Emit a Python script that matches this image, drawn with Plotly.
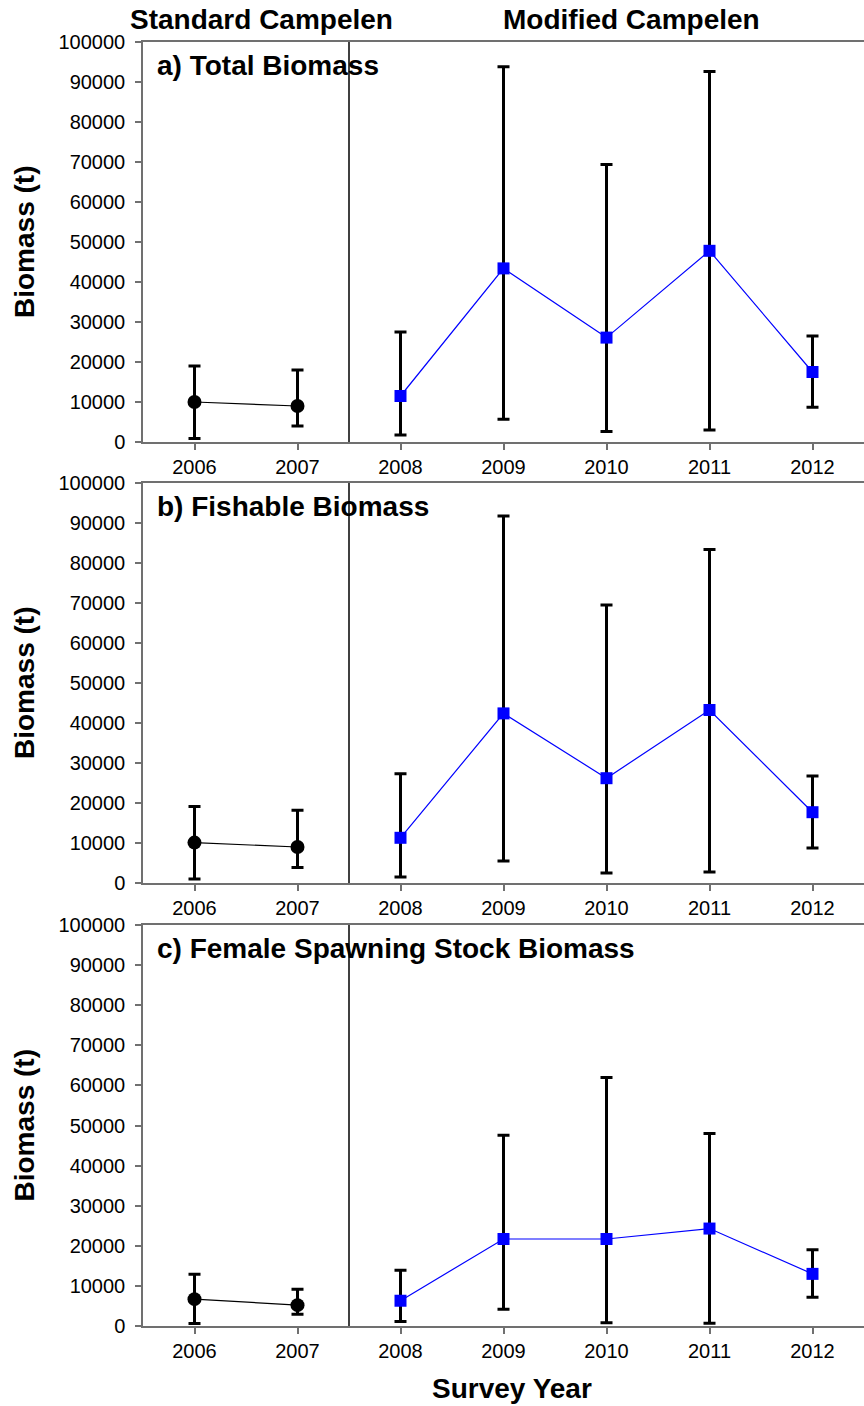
import plotly.graph_objects as go

# ---------------- data ----------------
years_std = [2006, 2007]
years_mod = [2008, 2009, 2010, 2011, 2012]

total_std = [10000, 9000]
total_std_lo = [900, 4000]
total_std_hi = [19000, 18000]
total_mod = [11500, 43400, 26100, 47800, 17500]
total_mod_lo = [1750, 5700, 2600, 3000, 8700]
total_mod_hi = [27500, 93800, 69400, 92600, 26500]

fish_std = [10100, 9000]
fish_std_lo = [1000, 3900]
fish_std_hi = [19100, 18200]
fish_mod = [11300, 42400, 26200, 43250, 17700]
fish_mod_lo = [1500, 5500, 2500, 2750, 8750]
fish_mod_hi = [27300, 91750, 69500, 83400, 26750]

fem_std = [6700, 5200]
fem_std_lo = [600, 2900]
fem_std_hi = [12900, 9150]
fem_mod = [6300, 21700, 21700, 24300, 13000]
fem_mod_lo = [1100, 4200, 800, 700, 7200]
fem_mod_hi = [13900, 47550, 62000, 48000, 19000]

panel_titles = ["a) Total Biomass", "b) Fishable Biomass", "c) Female Spawning Stock Biomass"]
year_ticks = [2006, 2007, 2008, 2009, 2010, 2011, 2012]
y_ticks = list(range(0, 100001, 10000))

W, H = 864, 1406
FONT = "Liberation Sans, Arial, Helvetica, sans-serif"

# panel pixel extents (top, bottom)
panels_px = [(42, 442), (483, 883), (925, 1326)]
x_left_px = 143

panels = [
    (total_std, total_std_lo, total_std_hi, total_mod, total_mod_lo, total_mod_hi),
    (fish_std, fish_std_lo, fish_std_hi, fish_mod, fish_mod_lo, fish_mod_hi),
    (fem_std, fem_std_lo, fem_std_hi, fem_mod, fem_mod_lo, fem_mod_hi),
]

fig = go.Figure()
layout = dict(
    width=W, height=H,
    margin=dict(l=0, r=0, t=0, b=0, autoexpand=False),
    paper_bgcolor="white", plot_bgcolor="white",
    showlegend=False,
    font=dict(family=FONT, color="black", size=20),
)
annotations = []
shapes = []

for i, (sv, slo, shi, mv, mlo, mhi) in enumerate(panels):
    n = "" if i == 0 else str(i + 1)
    xa, ya = "x" + n, "y" + n
    top, bot = panels_px[i]
    dom_y = [1 - bot / H, 1 - top / H]

    fig.add_trace(go.Scatter(
        x=years_std, y=sv, xaxis=xa, yaxis=ya, mode="lines+markers",
        line=dict(color="black", width=1.2),
        marker=dict(symbol="circle", size=14, color="black"),
        error_y=dict(type="data", symmetric=False,
                     array=[h - v for h, v in zip(shi, sv)],
                     arrayminus=[v - l for v, l in zip(sv, slo)],
                     color="black", thickness=3, width=6),
    ))
    fig.add_trace(go.Scatter(
        x=years_mod, y=mv, xaxis=xa, yaxis=ya, mode="lines+markers",
        line=dict(color="#0000FF", width=1.2),
        marker=dict(symbol="square", size=12, color="#0000FF"),
        error_y=dict(type="data", symmetric=False,
                     array=[h - v for h, v in zip(mhi, mv)],
                     arrayminus=[v - l for v, l in zip(mv, mlo)],
                     color="black", thickness=3, width=6),
    ))

    layout["xaxis" + n] = dict(
        domain=[x_left_px / W, 1.0], anchor=ya, range=[2005.5, 2012.5],
        tickmode="array", tickvals=year_ticks, ticktext=[str(t) for t in year_ticks],
        ticks="outside", ticklen=6, tickwidth=1.5, tickcolor="#707070",
        showline=True, linecolor="#707070", linewidth=1.5, mirror=True,
        showgrid=False, zeroline=False, ticklabelstandoff=0, automargin=False,
        tickfont=dict(size=20, family=FONT, color="black"),
    )
    layout["yaxis" + n] = dict(
        domain=dom_y, anchor=xa, range=[0, 100000],
        tickmode="array", tickvals=y_ticks, ticktext=[str(t) for t in y_ticks],
        ticks="outside", ticklen=6, tickwidth=1.5, tickcolor="#707070",
        showline=True, linecolor="#707070", linewidth=1.5,
        showgrid=False, zeroline=False, ticklabelstandoff=6, automargin=False,
        tickfont=dict(size=20, family=FONT, color="black"),
    )

    shapes.append(dict(type="line", xref=xa, yref=ya + " domain",
                       x0=2007.5, x1=2007.5, y0=0, y1=1,
                       line=dict(color="black", width=1.5)))

    annotations.append(dict(
        text="<b>" + panel_titles[i] + "</b>", xref="paper", yref="paper",
        x=155 / W, y=1 - (top + 23) / H, xanchor="left", yanchor="middle",
        showarrow=False, font=dict(size=28, family=FONT, color="black"),
    ))
    annotations.append(dict(
        text="<b>Biomass (t)</b>", xref="paper", yref="paper",
        x=24 / W, y=1 - ((top + bot) / 2) / H, xanchor="center", yanchor="middle",
        textangle=-90, showarrow=False,
        font=dict(size=28, family=FONT, color="black"),
    ))

annotations.append(dict(text="<b>Standard Campelen</b>", xref="paper", yref="paper",
                        x=261 / W, y=1 - 20 / H, xanchor="center", yanchor="middle",
                        showarrow=False, font=dict(size=28, family=FONT, color="black")))
annotations.append(dict(text="<b>Modified Campelen</b>", xref="paper", yref="paper",
                        x=631 / W, y=1 - 20 / H, xanchor="center", yanchor="middle",
                        showarrow=False, font=dict(size=28, family=FONT, color="black")))
annotations.append(dict(text="<b>Survey Year</b>", xref="paper", yref="paper",
                        x=512 / W, y=1 - 1388 / H, xanchor="center", yanchor="middle",
                        showarrow=False, font=dict(size=28, family=FONT, color="black")))

layout["annotations"] = annotations
layout["shapes"] = shapes
fig.update_layout(**layout)
fig.write_html("out.html")
